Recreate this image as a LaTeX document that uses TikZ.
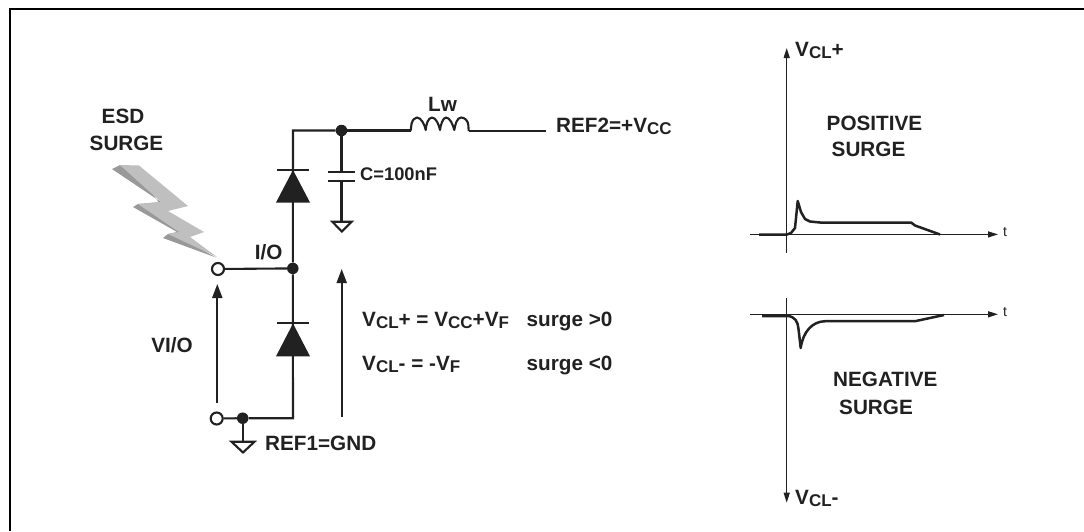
\documentclass[tikz,border=0pt]{standalone}
\usepackage{fontspec}
\setmainfont{Liberation Sans}
\usetikzlibrary{arrows.meta}
\definecolor{ink}{gray}{0.13}
\definecolor{boltdark}{gray}{0.6}
\definecolor{boltlight}{gray}{0.75}
\newcommand{\sbs}[1]{\raisebox{-2.2pt}{\fontsize{17}{18}\selectfont\bfseries #1}}
\tikzset{
  x=1pt,y=-1pt,
  wire/.style={draw=ink,line width=2.1pt},
  trace/.style={draw=ink,line width=2.5pt,line join=round},
  dot/.style={circle,fill=ink,inner sep=0pt,minimum size=11.5pt},
  open/.style={circle,draw=ink,fill=white,line width=2.1pt,inner sep=0pt,minimum size=12pt},
  txt/.style={inner sep=0pt,text=ink,font=\fontsize{20.7}{24}\selectfont\bfseries},
  arrowline/.style={draw=ink,line width=2pt,-{Triangle[length=14pt,width=10pt]}},
  axis arrow/.style={draw=ink,line width=1.3pt,-{Triangle[length=10pt,width=6pt]}},
  gnd/.style={draw=ink,fill=white,line width=2.1pt,line join=miter},
  diodefill/.style={fill=ink,draw=none},
}
\begin{document}
\begin{tikzpicture}
\useasboundingbox (0,0) rectangle (1084,531);
\fill[white] (0,0) rectangle (1084,531);
\draw[black,line width=2.8pt] (10,531) -- (10,9) -- (1084,9);

% lightning
\fill[boltdark] (112,169) -- (120,165) -- (150,190) -- (175,225) -- (190,243) -- (216,257.5) -- (163,238) -- (168,234) -- (177,232) -- (133,207) -- (138,204) -- (161,202) -- cycle;
\fill[boltlight] (120,165) -- (139,165.5) -- (188,206) -- (168,211) -- (204,232) -- (190,237) -- (217,257) -- (168,234) -- (179,232) -- (138,204) -- (161,202) -- cycle;

% nodes
\node[dot] (j1) at (341.5,130.5) {};
\node[dot] (j2) at (292.8,268.4) {};
\node[dot] (j3) at (242.7,418.2) {};
\node[open] (t1) at (218,269) {};
\node[open] (t2) at (216.7,418.5) {};
\coordinate (ctop) at (293,130.5);
\coordinate (cbot) at (293,418.2);
\coordinate (l1) at (410.7,130.5);
\coordinate (l2) at (468.7,131);
\coordinate (vccend) at (546,131);
\coordinate (capa) at (341.5,172.3);
\coordinate (capb) at (341.5,181.3);
\coordinate (g1) at (341.5,221.7);
\coordinate (g2) at (242.7,441.7);

% wires
\draw[wire] (j2) -- (ctop) -- (j1);
\draw[wire] (j1) -- (l1);
\draw[wire] (l2) -- (vccend);
\draw[wire] (j2) -- (cbot) -- (j3);
\draw[wire] (t1) -- (j2);
\draw[wire] (t2) -- (j3);
\draw[wire] (j1) -- (capa);
\draw[wire] (capb) -- (g1);
\draw[wire] (j3) -- (g2);
\draw[wire] (328,172.3) -- (355.3,172.3);
\draw[wire] (328,181.3) -- (355.3,181.3);
% inductor
\draw[wire,line join=round] (l1) -- (411.5,124) .. controls (412.5,120) and (414.5,117.5) .. (417,117.5)
  .. controls (421,117.5) and (425,125) .. (425.7,130)
  .. controls (426,125) and (428,117.5) .. (432,117.5) .. controls (436,117.5) and (439,125) .. (440,130)
  .. controls (440.5,125) and (443,117.5) .. (446,117.5) .. controls (450,117.5) and (453,125) .. (454.3,130)
  .. controls (455,125) and (457,117.5) .. (461,117.5) .. controls (465,117.5) and (468,121) .. (468.3,125) -- (l2);
% diodes
\fill[diodefill] (293,170) -- (310,202.5) -- (276,202.5) -- cycle;
\draw[wire] (277,169.7) -- (309,169.7);
\fill[diodefill] (293,323.5) -- (310,356.3) -- (276,356.3) -- cycle;
\draw[wire] (277,323.3) -- (309,323.3);
% grounds
\draw[gnd] (332.3,221.7) -- (351.7,221.7) -- (341.8,231.5) -- cycle;
\draw[gnd] (231.5,441.7) -- (254.5,441.7) -- (243,452.5) -- cycle;
% voltage arrows
\coordinate (a1s) at (217.3,402.7); \coordinate (a1e) at (217.3,284);
\coordinate (a2s) at (341.7,416.7); \coordinate (a2e) at (341.7,269);
\draw[arrowline] (a1s) -- (a1e);
\draw[arrowline] (a2s) -- (a2e);

% labels
\node[txt,anchor=base] (esd) at (123,123.5) {ESD};
\node[txt,anchor=base] (surge) at (126.5,150) {SURGE};
\node[txt,anchor=base] (io) at (268.7,259.5) {I/O};
\node[txt,anchor=base] (lw) at (442.5,111.7) {Lw};
\node[txt,anchor=base west] (ref2) at (556,132) {REF2=+V\sbs{CC}};
\node[txt,anchor=base west,font=\fontsize{18.3}{22}\selectfont\bfseries] (cap) at (360,180) {C=100nF};
\node[txt,anchor=base] (vio) at (172,352.7) {VI/O};
\node[txt,anchor=base west] (ref1) at (265,450) {REF1=GND};
\node[txt,anchor=base west] (f1) at (362,326) {V\sbs{CL}+ = V\sbs{CC}+V\sbs{F}};
\node[txt,anchor=base west] (f2) at (362,370.5) {V\sbs{CL}- = -V\sbs{F}};
\node[txt,anchor=base west] (s1) at (526.5,326) {surge >0};
\node[txt,anchor=base west] (s2) at (526.5,370) {surge <0};

% upper graph
\coordinate (u0) at (786.7,252.7); \coordinate (u1) at (786.7,48);
\coordinate (ux0) at (750,234.4); \coordinate (ux1) at (998,234.4);
\draw[axis arrow] (u0) -- (u1);
\draw[axis arrow] (ux0) -- (ux1);
\draw[trace] (759,234.5) -- (787,234.5) -- (791,233) -- (795,228) -- (797.7,201) -- (801,212) -- (805,219) -- (810,221.5) -- (820,222.5) -- (911,222.5) -- (915,225.5) -- (940,234.5);
\node[txt,anchor=base west] (v1) at (795,56) {V\sbs{CL}+};
\node[anchor=base west,inner sep=0pt,text=ink,font=\fontsize{14}{16}\selectfont] (t3) at (1003,236) {t};
\node[txt,anchor=base west] (pos) at (826.5,130) {POSITIVE};
\node[txt,anchor=base west] (surp) at (831.5,156.7) {SURGE};

% lower graph
\coordinate (d0) at (786.7,298); \coordinate (d1) at (786.7,502.7);
\coordinate (dx0) at (750,314.3); \coordinate (dx1) at (998,314.3);
\draw[axis arrow] (d0) -- (d1);
\draw[axis arrow] (dx0) -- (dx1);
\draw[trace] (762,316) -- (787,316) .. controls (795,316) and (798,322) .. (798.5,329) -- (800.7,348) .. controls (803,332) and (812,321.5) .. (825,321.2) -- (915,321.2) -- (944,315);
\node[txt,anchor=base west] (v2) at (795,504) {V\sbs{CL}-};
\node[anchor=base west,inner sep=0pt,text=ink,font=\fontsize{14}{16}\selectfont] (t4) at (1003,316) {t};
\node[txt,anchor=base west] (neg) at (833,386.7) {NEGATIVE};
\node[txt,anchor=base west] (surn) at (839,414) {SURGE};
\end{tikzpicture}
\end{document}
